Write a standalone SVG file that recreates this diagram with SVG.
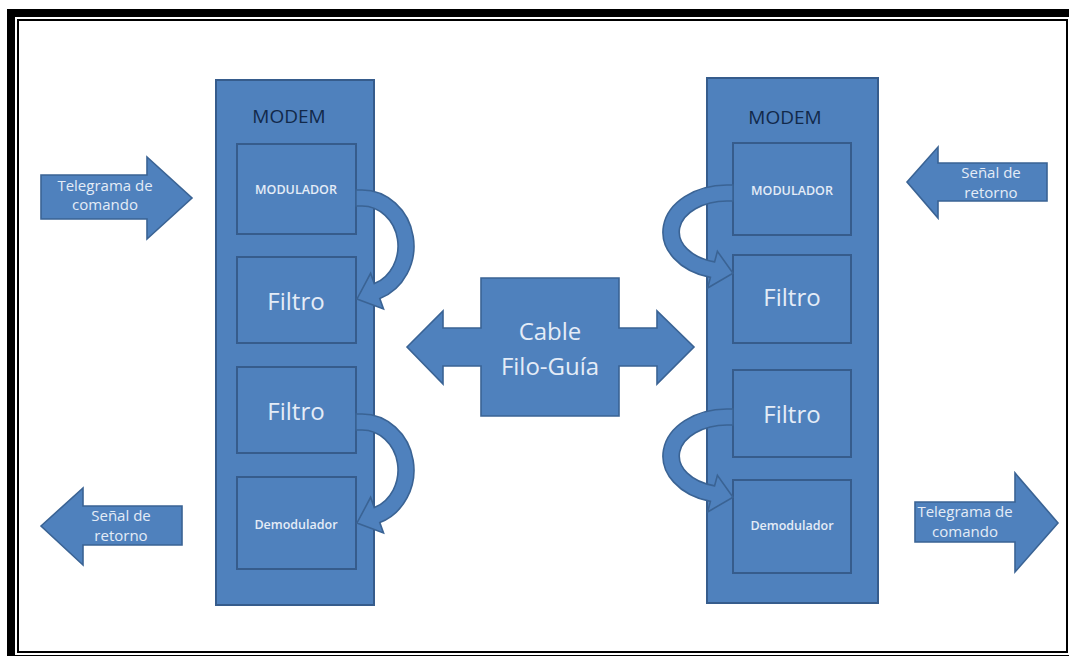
<svg xmlns="http://www.w3.org/2000/svg" width="1069" height="656" viewBox="0 0 1069 656">
<style>
.sh{fill:#4F81BD;stroke:#3A6394;stroke-width:1.6}
.bx{fill:#4F81BD;stroke:#365C8C;stroke-width:2}
.t{font-family:"Open Sans","Liberation Sans",sans-serif;fill:#E4ECF7;text-anchor:middle}
.hd{font-family:"Open Sans","Liberation Sans",sans-serif;fill:#12294A;text-anchor:middle;font-size:19px}
.sm{font-size:12.5px;font-weight:600}
.big{font-size:24px}
.lbl{font-size:15px}
</style>
<rect width="1069" height="656" fill="#FFFFFF"/>
<rect x="11" y="13" width="1062" height="646" fill="none" stroke="#000" stroke-width="8"/>
<rect x="18" y="20" width="1049" height="632" fill="none" stroke="#000" stroke-width="2"/>

<g id="modem-left">
<rect class="bx" x="216" y="80" width="158" height="525"/>
<text class="hd" x="289" y="123">MODEM</text>
<rect class="bx" x="237" y="144" width="119" height="90"/>
<text class="t sm" x="296" y="194">MODULADOR</text>
<rect class="bx" x="237" y="257" width="119" height="86"/>
<text class="t big" x="296" y="310">Filtro</text>
<rect class="bx" x="237" y="367" width="119" height="86"/>
<text class="t big" x="296" y="420">Filtro</text>
<rect class="bx" x="237" y="477" width="119" height="92"/>
<text class="t sm" x="296" y="529">Demodulador</text>
</g>

<g id="modem-right">
<rect class="bx" x="707" y="78" width="171" height="525"/>
<text class="hd" x="785" y="124">MODEM</text>
<rect class="bx" x="733" y="143" width="118" height="92"/>
<text class="t sm" x="792" y="195">MODULADOR</text>
<rect class="bx" x="733" y="255" width="118" height="88"/>
<text class="t big" x="792" y="306">Filtro</text>
<rect class="bx" x="733" y="370" width="118" height="87"/>
<text class="t big" x="792" y="423">Filtro</text>
<rect class="bx" x="733" y="480" width="118" height="93"/>
<text class="t sm" x="792" y="530">Demodulador</text>
</g>

<g id="cable">
<polygon class="sh" points="407,347 443,311 443,328 481,328 481,278 619,278 619,328 657,328 657,311 694,347 657,384 657,366 619,366 619,416 481,416 481,366 443,366 443,384"/>
<text class="t big" x="550" y="340">Cable</text>
<text class="t big" x="550" y="375">Filo-Guía</text>
</g>

<g id="in-left">
<polygon class="sh" points="41,175 147,175 147,157 192,198 147,239 147,219 41,219"/>
<text class="t lbl" x="105" y="191">Telegrama de</text>
<text class="t lbl" x="105" y="210">comando</text>
</g>

<g id="out-left">
<polygon class="sh" points="41,526 83,488 83,506 182,506 182,545 83,545 83,565"/>
<text class="t lbl" x="121" y="521">Señal de</text>
<text class="t lbl" x="121" y="541">retorno</text>
</g>

<g id="in-right">
<polygon class="sh" points="907,182 938,147 938,163 1047,163 1047,201 938,201 938,218"/>
<text class="t lbl" x="991" y="178">Señal de</text>
<text class="t lbl" x="991" y="198">retorno</text>
</g>

<g id="out-right">
<polygon class="sh" points="915,502 1015,502 1015,473 1058,523 1015,572 1015,542 915,542"/>
<text class="t lbl" x="965" y="517">Telegrama de</text>
<text class="t lbl" x="965" y="537">comando</text>
</g>

<g id="connectors">
<path id="cl1" class="sh" d="M356 190 L362 190 A52 56 0 0 1 379.8 298.6 L383.5 309 L357 299 L370.6 273.3 L374.3 283.6 A36 40 0 0 0 362 206 L356 206 Z"/>
<use href="#cl1" transform="translate(0,224)"/>
<path id="cr1" class="sh" d="M733 185 L727 185 A64 47 0 0 0 710.4 277.4 L707.6 288 L733 273.3 L717.4 251.3 L714.6 261.9 A48 31 0 0 1 727 201 L733 201 Z"/>
<use href="#cr1" transform="translate(0,224)"/>
</g>
</svg>
